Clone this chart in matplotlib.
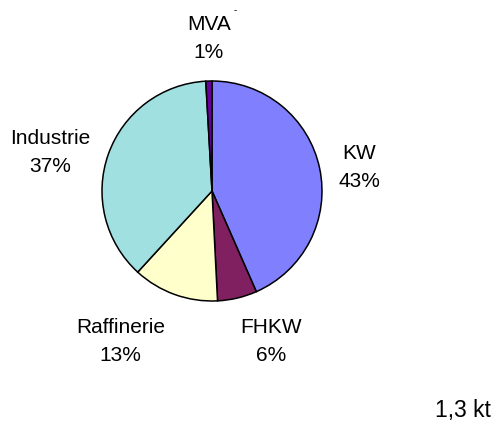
import matplotlib
matplotlib.use('Agg')
import matplotlib.pyplot as plt

plt.rcParams['font.family'] = ['Liberation Sans', 'DejaVu Sans']

# slices clockwise from 12 o'clock
labels = ['KW', 'FHKW', 'Raffinerie', 'Industrie', 'MVA']
shares = [43.4, 5.8, 12.6, 37.3, 0.9]
colors = ['#8080FF', '#802060', '#FFFFCC', '#A0E0E0', '#660099']
total_label = '1,3 kt'

# label centres in pie-radius units, relative to pie centre
label_pos = [(1.34, 0.22), (0.54, -1.355), (-0.83, -1.355), (-1.47, 0.355), (-0.03, 1.40)]

fig = plt.figure(figsize=(4.99, 4.27), dpi=100)
ax = fig.add_axes([0, 0, 1, 1])

ax.pie(shares, colors=colors, startangle=90, counterclock=False,
       radius=1.0, wedgeprops=dict(edgecolor='black', linewidth=1.1))

for name, val, (x, y) in zip(labels, shares, label_pos):
    ax.text(x, y, '{}\n{:.0f}%'.format(name, val), ha='center', va='center',
            fontsize=15, linespacing=1.6)

ax.text(0.21, 1.655, '-', fontsize=7, ha='center', va='center')
ax.text(2.28, -1.99, total_label, fontsize=16.5, ha='center', va='center')

ax.set_xlim(-212 / 110, (499 - 212) / 110)
ax.set_ylim(-235 / 110, 192 / 110)
ax.set_aspect('equal')
ax.axis('off')

fig.savefig('out.png', dpi=100, facecolor='white')
